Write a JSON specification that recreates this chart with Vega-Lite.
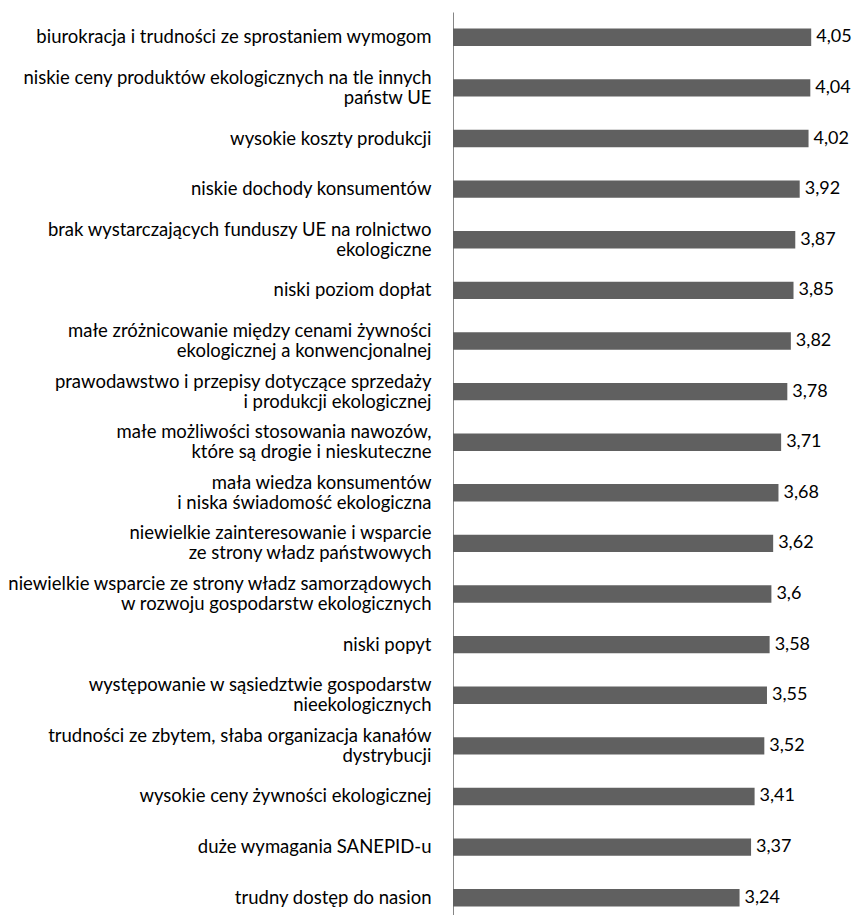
{
  "$schema": "https://vega.github.io/schema/vega-lite/v6.json",
  "width": 398,
  "height": 911,
  "autosize": {"type": "none"},
  "padding": {"left": 453, "top": 12, "right": 7, "bottom": 0},
  "config": {
    "view": {"stroke": null},
    "font": "Lato",
    "locale": {"number": {"decimal": ",", "thousands": " ", "grouping": [3], "currency": ["", " zł"]}}
  },
  "data": {
    "values": [
      {"cat": "biurokracja i trudności ze sprostaniem wymogom", "v": 4.05},
      {"cat": "niskie ceny produktów ekologicznych na tle innych|państw UE", "v": 4.04},
      {"cat": "wysokie koszty produkcji", "v": 4.02},
      {"cat": "niskie dochody konsumentów", "v": 3.92},
      {"cat": "brak wystarczających funduszy UE na rolnictwo|ekologiczne", "v": 3.87},
      {"cat": "niski poziom dopłat", "v": 3.85},
      {"cat": "małe zróżnicowanie między cenami żywności|ekologicznej a konwencjonalnej", "v": 3.82},
      {"cat": "prawodawstwo i przepisy dotyczące sprzedaży|i produkcji ekologicznej", "v": 3.78},
      {"cat": "małe możliwości stosowania nawozów,|które są drogie i nieskuteczne", "v": 3.71},
      {"cat": "mała wiedza konsumentów|i niska świadomość ekologiczna", "v": 3.68},
      {"cat": "niewielkie zainteresowanie i wsparcie|ze strony władz państwowych", "v": 3.62},
      {"cat": "niewielkie wsparcie ze strony władz samorządowych|w rozwoju gospodarstw ekologicznych", "v": 3.6},
      {"cat": "niski popyt", "v": 3.58},
      {"cat": "występowanie w sąsiedztwie gospodarstw|nieekologicznych", "v": 3.55},
      {"cat": "trudności ze zbytem, słaba organizacja kanałów|dystrybucji", "v": 3.52},
      {"cat": "wysokie ceny żywności ekologicznej", "v": 3.41},
      {"cat": "duże wymagania SANEPID-u", "v": 3.37},
      {"cat": "trudny dostęp do nasion", "v": 3.24}
    ]
  },
  "encoding": {
    "y": {
      "field": "cat",
      "type": "nominal",
      "sort": null,
      "scale": {"paddingInner": 0.656, "paddingOuter": 0.328},
      "axis": {
        "title": null,
        "domainColor": "#868686",
        "domainWidth": 1,
        "ticks": false,
        "labelExpr": "split(datum.value, '|')",
        "labelFont": "Lato",
        "labelFontSize": 18.5,
        "labelColor": "#000000",
        "labelPadding": 22,
        "labelLineHeight": 20,
        "labelOffset": {"condition": {"test": "indexof(datum.value, '|') >= 0", "value": -10}, "value": 0},
        "labelLimit": 460
      }
    },
    "x": {"field": "v", "type": "quantitative", "scale": {"domain": [0, 4.5]}, "axis": null}
  },
  "layer": [
    {"mark": {"type": "bar", "color": "#606060"}},
    {
      "mark": {"type": "text", "align": "left", "baseline": "middle", "dx": 5, "font": "Lato", "fontSize": 18, "color": "#000000"},
      "encoding": {"text": {"field": "v", "type": "quantitative", "format": ".3~r"}}
    }
  ]
}
